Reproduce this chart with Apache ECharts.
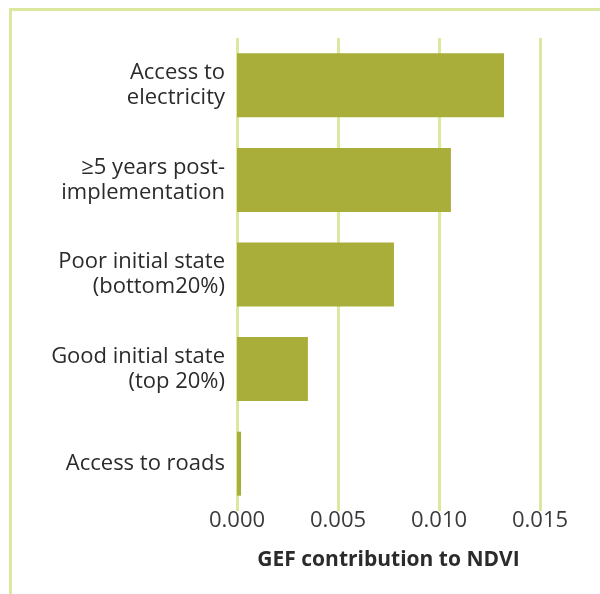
<!DOCTYPE html>
<html>
<head>
<meta charset="utf-8">
<script src="https://cdn.jsdelivr.net/npm/echarts@6/dist/echarts.min.js"></script>
<style>
  html, body { margin: 0; padding: 0; background: #fff; }
  #main { width: 600px; height: 594px; }
</style>
</head>
<body>
<div id="main"></div>
<script>
// categories top to bottom
const categories = [
  'Access to\nelectricity',
  '≥5 years post-\nimplementation',
  'Poor initial state\n(bottom20%)',
  'Good initial state\n(top 20%)',
  'Access to roads'
];
const contribution = [0.01322, 0.01059, 0.00777, 0.00351, 0.0002];
const tickValues = [0, 0.005, 0.010, 0.015];

const lineColor = '#dbe89f';
const barColor = '#a9ae3a';
const textColor = '#2b2b2b';
const font = 'Open Sans';

const myChart = echarts.init(document.getElementById('main'));

const option = {
  backgroundColor: '#fff',
  animation: false,
  grid: { left: 237, right: 60, top: 38, bottom: 83, containLabel: false },
  xAxis: {
    type: 'value',
    min: tickValues[0],
    max: tickValues[tickValues.length - 1],
    interval: 0.005,
    name: 'GEF contribution to NDVI',
    nameLocation: 'middle',
    nameGap: 39,
    nameTextStyle: { color: textColor, fontSize: 21, fontWeight: 'bold', fontFamily: font },
    axisLine: { show: false },
    axisTick: { show: false },
    axisLabel: {
      margin: -1,
      color: '#3a3a3a',
      fontSize: 22,
      fontFamily: font,
      formatter: v => v.toFixed(3)
    },
    splitLine: { show: true, lineStyle: { color: lineColor, width: 3 } }
  },
  yAxis: {
    type: 'category',
    inverse: true,
    data: categories,
    axisLine: { show: false },
    axisTick: { show: false },
    axisLabel: {
      margin: 12,
      color: textColor,
      fontSize: 22,
      lineHeight: 25,
      fontFamily: font,
      align: 'right'
    }
  },
  series: [{
    type: 'bar',
    data: contribution,
    barWidth: 64,
    itemStyle: { color: barColor }
  }],
  graphic: [
    { type: 'line', shape: { x1: 10, y1: 9.5, x2: 600, y2: 9.5 }, style: { stroke: lineColor, lineWidth: 3 } },
    { type: 'line', shape: { x1: 10.5, y1: 8, x2: 10.5, y2: 594 }, style: { stroke: lineColor, lineWidth: 3 } }
  ]
};

myChart.setOption(option);
</script>
</body>
</html>
